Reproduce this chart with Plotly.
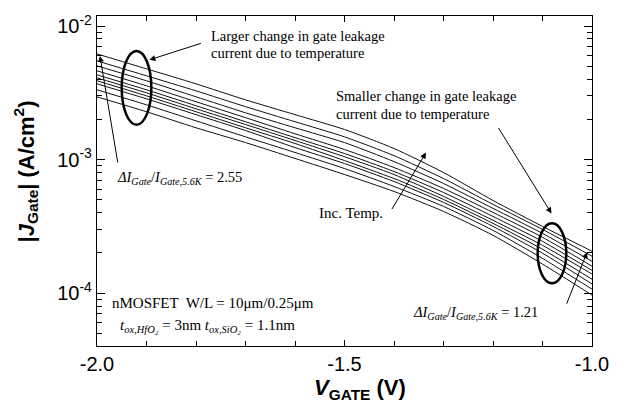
import plotly.graph_objects as go

# Gate voltage (V)
v_gate = [-2.0, -1.9, -1.8, -1.7, -1.6, -1.5, -1.4, -1.3, -1.2, -1.1, -1.0]

# |J_Gate| (A/cm^2) for curves at increasing temperature
j_c1 = [6.18e-3, 4.78e-3, 3.69e-3, 2.80e-3, 2.17e-3, 1.68e-3, 1.21e-3, 8.00e-4, 4.94e-4, 3.16e-4, 2.06e-4]
j_c2 = [5.48e-3, 4.24e-3, 3.27e-3, 2.49e-3, 1.92e-3, 1.48e-3, 1.07e-3, 7.21e-4, 4.62e-4, 3.00e-4, 1.89e-4]
j_c3 = [5.03e-3, 3.89e-3, 2.95e-3, 2.24e-3, 1.73e-3, 1.34e-3, 9.66e-4, 6.62e-4, 4.31e-4, 2.80e-4, 1.73e-4]
j_c4 = [4.62e-3, 3.57e-3, 2.71e-3, 2.06e-3, 1.56e-3, 1.19e-3, 8.72e-4, 6.08e-4, 4.02e-4, 2.62e-4, 1.59e-4]
j_c5 = [4.31e-3, 3.33e-3, 2.53e-3, 1.92e-3, 1.46e-3, 1.11e-3, 8.14e-4, 5.67e-4, 3.75e-4, 2.44e-4, 1.48e-4]
j_c6 = [4.09e-3, 3.16e-3, 2.40e-3, 1.83e-3, 1.39e-3, 1.05e-3, 7.73e-4, 5.30e-4, 3.51e-4, 2.28e-4, 1.39e-4]
j_c7 = [3.89e-3, 3.00e-3, 2.28e-3, 1.73e-3, 1.32e-3, 9.83e-4, 7.21e-4, 5.03e-4, 3.33e-4, 2.13e-4, 1.27e-4]
j_c8 = [3.69e-3, 2.85e-3, 2.17e-3, 1.65e-3, 1.23e-3, 9.34e-4, 6.85e-4, 4.78e-4, 3.16e-4, 1.99e-4, 1.17e-4]
j_c9 = [3.33e-3, 2.57e-3, 1.95e-3, 1.48e-3, 1.13e-3, 8.57e-4, 6.29e-4, 4.46e-4, 2.95e-4, 1.82e-4, 1.07e-4]
j_c10 = [2.95e-3, 2.28e-3, 1.73e-3, 1.34e-3, 1.02e-3, 7.73e-4, 5.77e-4, 4.09e-4, 2.71e-4, 1.65e-4, 9.66e-5]

curves = [j_c1, j_c2, j_c3, j_c4, j_c5, j_c6, j_c7, j_c8, j_c9, j_c10]

x_tick_vals = [-2.0, -1.5, -1.0]
x_tick_text = ["-2.0", "-1.5", "-1.0"]
y_tick_vals = [1e-4, 1e-3, 1e-2]
y_tick_text = ["10<sup>-4</sup>", "10<sup>-3</sup>", "10<sup>-2</sup>"]
y_decades = [1e-5, 1e-4, 1e-3, 1e-2]
y_minor_mults = [2, 3, 4, 5, 6, 7, 8, 9]

SERIF = "Liberation Serif, Times New Roman, serif"
SANS = "Liberation Sans, Arial, sans-serif"

fig = go.Figure()
for c in curves:
    fig.add_trace(go.Scatter(x=v_gate, y=c, mode="lines",
                             line=dict(color="#111111", width=1, shape="spline", smoothing=0.6),
                             showlegend=False, hoverinfo="skip"))

fig.update_layout(
    width=621, height=405,
    margin=dict(l=97, r=23, t=15, b=59),
    paper_bgcolor="white", plot_bgcolor="white",
    font=dict(family=SANS, color="black"),
)

fig.update_xaxes(
    range=[-2.0, -1.0], tickvals=x_tick_vals, ticktext=x_tick_text,
    ticks="inside", ticklen=6, tickwidth=1, tickcolor="black",
    minor=dict(dtick=0.1, ticks="inside", ticklen=5, tickwidth=1, tickcolor="black", showgrid=False),
    showline=True, linecolor="black", linewidth=1.2, mirror="ticks",
    showgrid=False, zeroline=False,
    tickfont=dict(family=SANS, size=20, color="black"),
)
minor_vals = [d * m for d in y_decades for m in y_minor_mults]
fig.update_yaxes(
    type="log", range=[-4.396, -1.925],
    tickmode="array", tickvals=y_tick_vals, ticktext=y_tick_text,
    ticks="inside", ticklen=8, tickwidth=1, tickcolor="black",
    minor=dict(tickmode="array", tickvals=minor_vals, ticks="inside", ticklen=5, tickwidth=1,
               tickcolor="black", showgrid=False),
    showline=True, linecolor="black", linewidth=1.2, mirror="ticks",
    showgrid=False, zeroline=False,
    tickfont=dict(family=SANS, size=20, color="black"),
)

def px2paper(px, py):
    return (px - 97) / 501.0, (346 - py) / 331.0

# Ellipses
for (x0, y0, x1, y1) in [(122, 50, 152, 124), (543, 223, 572, 283)]:
    a0, b0 = px2paper(x0, y1)
    a1, b1 = px2paper(x1, y0)
    fig.add_shape(type="circle", xref="paper", yref="paper", x0=a0, y0=b0, x1=a1, y1=b1,
                  line=dict(color="black", width=2.5))

# Arrows: (tail px, head px)
arrows = [((203, 42), (150, 59)),
          ((118, 163), (100, 55)),
          ((395, 210), (430, 152)),
          ((503, 126), (557, 213)),
          ((572, 305), (593, 252))]
for (tx, ty), (hx, hy) in arrows:
    ax_, ay_ = px2paper(hx, hy)
    fig.add_annotation(xref="paper", yref="paper", x=ax_, y=ay_, text="", showarrow=True,
                       ax=tx - hx, ay=ty - hy, arrowhead=2, arrowsize=1.2, arrowwidth=1,
                       arrowcolor="black")

texts = [
    ("Larger change in gate leakage", 210, 35, 14.5),
    ("current due to temperature", 210, 52, 14.5),
    ("Smaller change in gate leakage", 337, 95, 14.5),
    ("current due to temperature", 337, 113, 14.5),
    ("Inc. Temp.", 320, 213, 15),
    ("<i>ΔI</i><sub><i>Gate</i></sub>/<i>I</i><sub><i>Gate,5.6K</i></sub> = 2.55", 115, 177, 14.5),
    ("<i>ΔI</i><sub><i>Gate</i></sub>/<i>I</i><sub><i>Gate,5.6K</i></sub> = 1.21", 415, 313, 14.5),
    ("nMOSFET  W/L = 10μm/0.25μm", 110, 303, 15),
    ("<i>t</i><sub><i>ox,HfO₂</i></sub> = 3nm <i>t</i><sub><i>ox,SiO₂</i></sub> = 1.1nm", 118, 326, 15),
]
for t, x, y, s in texts:
    a, b = px2paper(x, y)
    fig.add_annotation(xref="paper", yref="paper", x=a, y=b, text=t, showarrow=False,
                       xanchor="left", yanchor="middle",
                       font=dict(family=SERIF, size=s, color="black"))

# Axis titles
a, b = px2paper(363, 389)
fig.add_annotation(xref="paper", yref="paper", x=a, y=b, showarrow=False,
                   text="<b><i>V</i></b><sub><b>GATE</b></sub><b> (V)</b>",
                   xanchor="center", yanchor="middle",
                   font=dict(family=SANS, size=22, color="black"))
a, b = px2paper(25, 171)
fig.add_annotation(xref="paper", yref="paper", x=a, y=b, showarrow=False, textangle=-90,
                   text="<b>|<i>J</i></b><sub><b>Gate</b></sub><b>| (A/cm</b><sup><b>2</b></sup><b>)</b>",
                   xanchor="center", yanchor="middle",
                   font=dict(family=SANS, size=22, color="black"))

fig.write_html("out.html")
